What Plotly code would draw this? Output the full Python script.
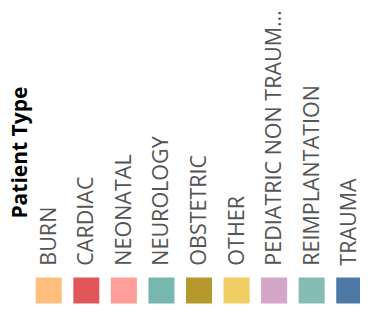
import plotly.graph_objects as go

categories = ["BURN", "CARDIAC", "NEONATAL", "NEUROLOGY", "OBSTETRIC", "OTHER",
              "PEDIATRIC NON TRAUM…", "REIMPLANTATION", "TRAUMA"]
colors = ["#FFBE7D", "#E15759", "#FF9D9A", "#78B6B0", "#B6992D", "#F1CE63",
          "#D4A6C8", "#86BCB6", "#4E79A7"]
y_vals = [0] * len(categories)
legend_title = "Patient Type"

fig = go.Figure(go.Scatter(
    x=list(range(len(categories))), y=y_vals, mode="markers",
    marker=dict(symbol="square", size=26, color=colors, line=dict(width=0)),
    hoverinfo="skip", showlegend=False, cliponaxis=False))

fig.update_xaxes(range=[-0.5, len(categories) - 0.5], side="top",
                 tickmode="array", tickvals=list(range(len(categories))),
                 ticktext=categories, tickangle=-90,
                 tickfont=dict(family="Open Sans", size=21.5, color="#555555"),
                 showgrid=False, zeroline=False, showline=False,
                 ticks="outside", ticklen=6, tickcolor="rgba(0,0,0,0)")
fig.update_yaxes(range=[-1, 1], visible=False, fixedrange=True)

fig.add_annotation(text=legend_title, xref="paper", yref="paper",
                   x=-0.031, y=5.59, xanchor="center", yanchor="middle",
                   showarrow=False, textangle=-90,
                   font=dict(family="Open Sans", size=21, color="#000000", weight="bold"))

fig.update_layout(width=360, height=313, margin=dict(l=22, r=0, t=269, b=17),
                  paper_bgcolor="white", plot_bgcolor="white")

fig.write_html("out.html")
